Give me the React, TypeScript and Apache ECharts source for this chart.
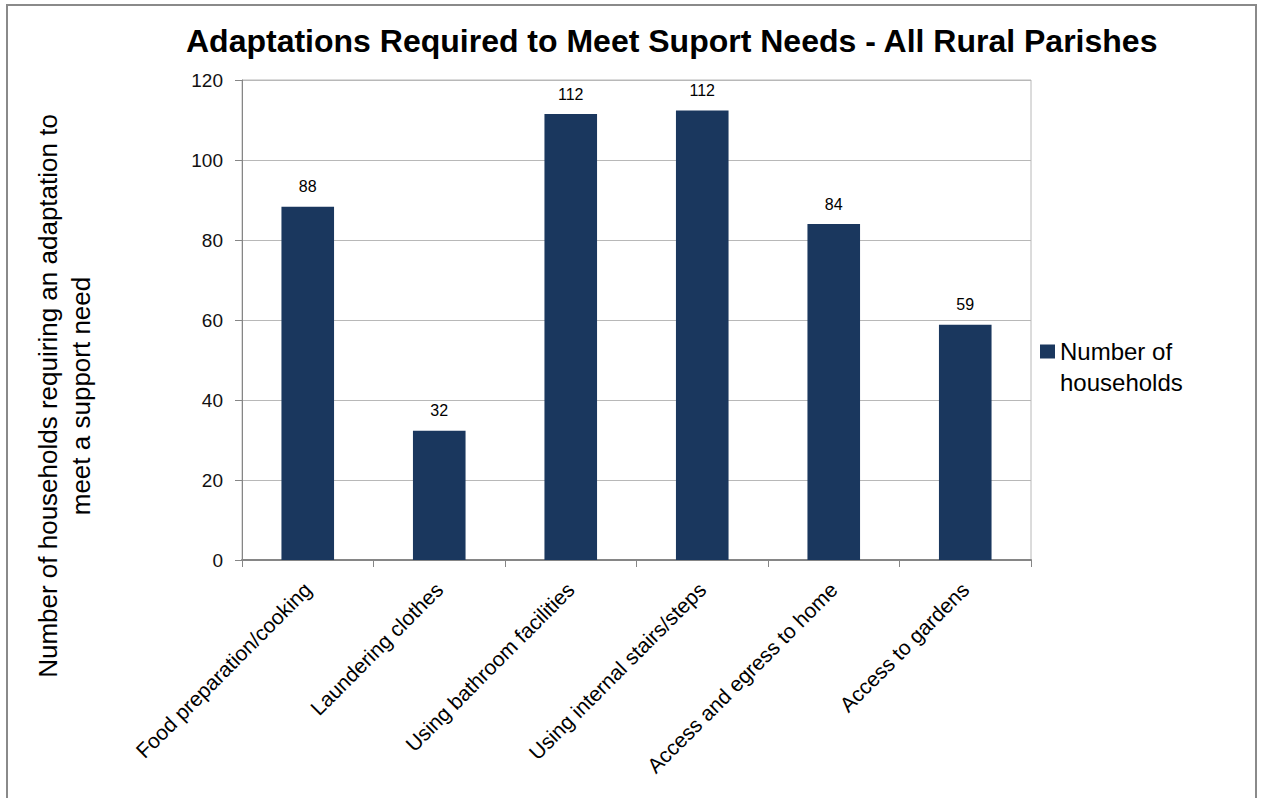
import React, { useEffect, useRef } from "react";
import * as echarts from "echarts";

const categories = [
  "Food preparation/cooking",
  "Laundering clothes",
  "Using bathroom facilities",
  "Using internal stairs/steps",
  "Access and egress to home",
  "Access to gardens",
];
const households = [88.3, 32.3, 111.5, 112.4, 84, 58.8];
const seriesName = "Number of households";
const titleText = "Adaptations Required to Meet Suport Needs - All Rural Parishes";
const yAxisName = "Number of households requiring an adaptation to\nmeet a support need";
const yMin = 0;
const yMax = 120;
const yInterval = 20;

const FONT = "'Liberation Sans', Arial, sans-serif";

export default function App() {
  const ref = useRef<HTMLDivElement>(null);
  useEffect(() => {
    if (!ref.current) return;
    const chart = echarts.init(ref.current, null, { renderer: "svg" });
    chart.setOption({
      animation: false,
      backgroundColor: "#ffffff",
      textStyle: { fontFamily: FONT },
      title: {
        text: titleText,
        left: 181,
        top: 20,
        textStyle: { fontFamily: FONT, fontSize: 32, fontWeight: "bold", color: "#000" },
      },
      graphic: [
        {
          type: "rect",
          silent: true,
          shape: { x: 7, y: 5, width: 1249, height: 800 },
          style: { fill: "none", stroke: "#8a8a8a", lineWidth: 2 },
        },
      ],
      legend: {
        left: 1035,
        top: 300,
        icon: "rect",
        itemWidth: 15,
        itemHeight: 14,
        formatter: () => " \nNumber of\nhouseholds",
        textStyle: {
          fontFamily: FONT,
          fontSize: 24,
          lineHeight: 31,
          color: "#000",
        },
        data: [seriesName],
      },
      grid: {
        left: 242,
        right: 232,
        top: 80,
        bottom: 238,
        containLabel: false,
        outerBoundsMode: "none",
        show: true,
        borderColor: "#b8b8b8",
        borderWidth: 1,
      },
      xAxis: {
        type: "category",
        data: categories,
        axisLine: { lineStyle: { color: "#868686", width: 2 } },
        axisTick: { show: true, length: 7, lineStyle: { color: "#868686" } },
        axisLabel: {
          rotate: 45,
          margin: 26,
          fontFamily: FONT,
          fontSize: 21,
          color: "#000",
          interval: 0,
        },
      },
      yAxis: {
        type: "value",
        min: yMin,
        max: yMax,
        interval: yInterval,
        name: yAxisName,
        nameLocation: "middle",
        nameGap: 145,
        nameTextStyle: {
          fontFamily: FONT,
          fontSize: 26,
          lineHeight: 33,
          color: "#000",
          padding: [0, 152, 0, 0],
        },
        axisLine: { show: true, lineStyle: { color: "#868686", width: 1 } },
        axisTick: { show: true, length: 7, lineStyle: { color: "#868686" } },
        axisLabel: { margin: 19, fontFamily: FONT, fontSize: 19, color: "#111" },
        splitLine: { lineStyle: { color: "#b8b8b8", width: 1 } },
      },
      series: [
        {
          name: seriesName,
          type: "bar",
          data: households,
          barCategoryGap: "60%",
          itemStyle: { color: "#1a375e" },
          label: {
            show: true,
            position: "top",
            distance: 12,
            fontFamily: FONT,
            fontSize: 16,
            color: "#000",
            formatter: (p: any) => String(Math.round(p.value)),
          },
        },
      ],
    });
    return () => chart.dispose();
  }, []);
  return (
    <div
      ref={ref}
      style={{ position: "absolute", left: 0, top: 0, width: 1263, height: 798 }}
    />
  );
}
